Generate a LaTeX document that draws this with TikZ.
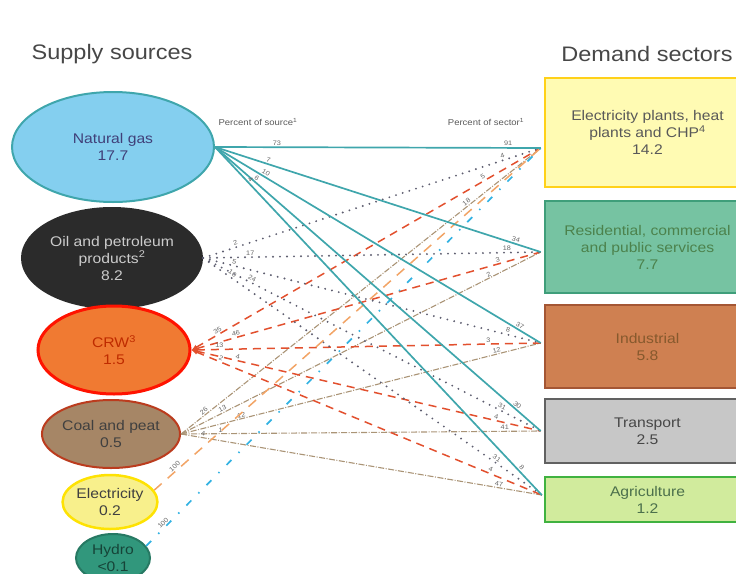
\documentclass[tikz,border=0pt]{standalone}
\usepackage{fontspec}
\setmainfont[FakeStretch=1.12]{Liberation Sans}
\usetikzlibrary{shapes.geometric,arrows.meta}
\tikzset{>=latex}
\definecolor{gasfill}{HTML}{84CFEF}
\definecolor{gasline}{HTML}{3FA6AC}
\definecolor{oilfill}{HTML}{2B2B2B}
\definecolor{oilline}{HTML}{5E5E70}
\definecolor{crwfill}{HTML}{F07A32}
\definecolor{crwline}{HTML}{E2502E}
\definecolor{coalfill}{HTML}{A68666}
\definecolor{coalline}{HTML}{AA9476}
\definecolor{elecfill}{HTML}{F8F08C}
\definecolor{elecline}{HTML}{F2A466}
\definecolor{hydrofill}{HTML}{31977C}
\definecolor{hydroline}{HTML}{33B2E2}
\definecolor{resfill}{HTML}{76C3A2}
\definecolor{resline}{HTML}{3F9E7A}
\definecolor{indfill}{HTML}{CF8051}
\definecolor{indline}{HTML}{A45634}
\colorlet{mygray}{black!72}
\tikzstyle{source}=[ellipse,draw,line width=2,inner sep=0,align=center,
                    font=\fontsize{14}{17}\selectfont]
\tikzstyle{sector}=[rectangle,draw,line width=2.5,minimum width=205,inner sep=0,
                    align=center,font=\fontsize{14}{17}\selectfont]
\tikzstyle{title}=[mygray,font=\fontsize{21}{25}\selectfont]
\tikzstyle{head}=[black!65,font=\fontsize{8.5}{10}\selectfont]
\tikzstyle{num}=[black!60,inner sep=1,font=\fontsize{6.5}{7}\selectfont]
\tikzstyle{gas flow}=[gasline,line width=1.7]
\tikzstyle{oil flow}=[oilline,line width=2.1,line cap=round,dash pattern=on 0pt off 7pt]
\tikzstyle{crw flow}=[crwline,line width=1.5,dash pattern=on 8pt off 6pt,{Latex[length=6,width=5]}-]
\tikzstyle{coal flow}=[coalline,line width=1.1,dash pattern=on 6pt off 1.5pt on 1pt off 1.5pt]
\tikzstyle{elec flow}=[elecline,line width=1.5,dash pattern=on 10pt off 8pt]
\tikzstyle{hydro flow}=[hydroline,line width=1.7,dash pattern=on 7pt off 10pt on 1.5pt off 10pt]

\begin{document}
\begin{tikzpicture}[x=1pt,y=-1pt]
  \useasboundingbox (0,0) rectangle (736,573);
  \clip (0,0) rectangle (736,573);

  % TITLES
  \node[title] (supply) at (112,54) {Supply sources};
  \node[title] (demand) at (647,54) {Demand sectors};
  \node[head] (psrc) at (258,122) {Percent of source\textsuperscript{1}};
  \node[head] (psec) at (486,122) {Percent of sector\textsuperscript{1}};

  % SOURCES
  \node[source,fill=gasfill,draw=gasline,text=blue!30!black!75,minimum width=202,minimum height=110]
    (gas) at (113,147) {Natural gas\\17.7};
  \node[source,fill=oilfill,draw=oilfill,text=black!20,minimum width=180,minimum height=100]
    (oil) at (112,258) {Oil and petroleum\\products\textsuperscript{2}\\8.2};
  \node[source,fill=crwfill,draw=red!85!orange,line width=3,text=red!55!orange!75!black,
        minimum width=152,minimum height=88]
    (crw) at (114,350) {CRW\textsuperscript{3}\\1.5};
  \node[source,fill=coalfill,draw=red!45!brown!85!black,text=black!75,minimum width=124,minimum height=68]
    (coal) at (111,434) {Coal and peat\\0.5};
  \node[source,fill=elecfill,draw=yellow!85!orange,line width=2.5,text=black!75,
        minimum width=94,minimum height=54]
    (elec) at (110,502) {Electricity\\0.2};
  \node[source,fill=hydrofill,draw=hydrofill!80!black,text=hydrofill!45!black,
        minimum width=74,minimum height=48]
    (hydro) at (113,558) {Hydro\\<0.1};

  % SECTORS
  \node[sector,fill=yellow!30,draw=orange!40!yellow!90!white,text=black!65,minimum height=109]
    (ep) at (647.5,132.5) {Electricity plants, heat\\plants and CHP\textsuperscript{4}\\14.2};
  \node[sector,fill=resfill,draw=resline,text=green!30!black!70,minimum height=92]
    (rs) at (647.5,247) {Residential, commercial\\and public services\\7.7};
  \node[sector,fill=indfill,draw=indline,text=brown!70!black,minimum height=83]
    (ind) at (647.5,346.5) {Industrial\\5.8};
  \node[sector,fill=black!22,draw=black!62,text=black!72,minimum height=64]
    (tr) at (647.5,431) {Transport\\2.5};
  \node[sector,fill=yellow!55!green!40!white,draw=green!60!black!75,text=green!20!black!70,minimum height=45]
    (ag) at (647.5,499.5) {Agriculture\\1.2};

  % INLETS
  \coordinate (ep-in)  at ([xshift=-3,yshift=-15.5]ep.west);
  \coordinate (rs-in)  at ([xshift=-3,yshift=-5]rs.west);
  \coordinate (ind-in) at ([xshift=-3,yshift=3.5]ind.west);
  \coordinate (tr-in)  at ([xshift=-3]tr.west);
  \coordinate (ag-in)  at ([xshift=-2,yshift=4.5]ag.west);

  % FLOWS
  \foreach \sec/\ls/\lt/\ps/\pt in {ep/26/18/0.07/0.8,rs/13/2/0.12/0.86,ind/12/12/0.17/0.88,
                                    tr/1/41/0.11/0.9,ag/4/47/0.06/0.88}{
    \draw[coal flow] (coal.east) -- node[num,pos=\ps,sloped,above]{\ls}
                                    node[num,pos=\pt,sloped,above]{\lt} (\sec-in);
  }
  \foreach \sec/\ls/\lt/\ps/\pt in {ep/35/5/0.08/0.84,rs/46/3/0.13/0.88,ind/13/3/0.08/0.85,
                                    tr/4/4/0.13/0.87,ag/2/4/0.08/0.85}{
    \draw[crw flow] (crw.east) -- node[num,pos=\ps,sloped,above]{\ls}
                                  node[num,pos=\pt,sloped,above]{\lt} (\sec-in);
  }
  \foreach \sec/\ls/\lt/\ps/\pt in {ep/2/4/0.1/0.89,rs/17/18/0.14/0.9,ind/5/8/0.09/0.9,
                                    tr/24/31/0.14/0.88,ag/10/31/0.08/0.86}{
    \draw[oil flow] (oil.east) -- node[num,pos=\ps,sloped,above]{\ls}
                                  node[num,pos=\pt,sloped,above]{\lt} (\sec-in);
  }
  \draw[elec flow] (elec.15) -- node[num,pos=0.06,sloped,above]{100} (ep-in);
  \draw[hydro flow] (hydro.20) -- node[num,pos=0.05,sloped,above]{100} (ep-in);
  \foreach \sec/\ls/\lt/\ps/\pt in {ep/73/91/0.19/0.9,rs/7/34/0.16/0.92,ind/10/37/0.15/0.93,
                                    tr/6/30/0.12/0.92,ag/4/8/0.1/0.93}{
    \draw[gas flow] (gas.east) -- node[num,pos=\ps,sloped,above]{\ls}
                                  node[num,pos=\pt,sloped,above]{\lt} (\sec-in);
  }
\end{tikzpicture}
\end{document}
